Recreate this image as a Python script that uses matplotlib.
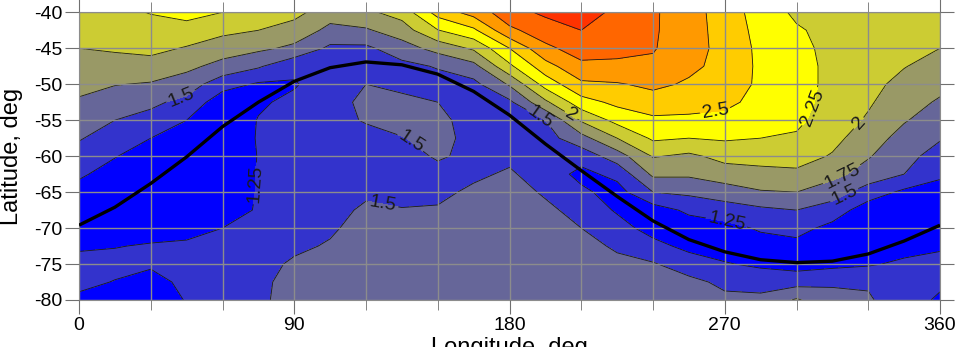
import numpy as np
import matplotlib.pyplot as plt
from matplotlib.ticker import MultipleLocator

plt.rcParams['font.family'] = ['Liberation Sans', 'DejaVu Sans']
plt.rcParams['axes.unicode_minus'] = False

# grid nodes
lon_nodes = np.arange(0, 361, 15)
lat_nodes = np.arange(-40, -80.1, -2.5)

# ratio values, one list per longitude (0..345 step 15), from -40 down to -80
ratio_by_lon = [
    [2.15, 2.08, 2.00, 1.91, 1.82, 1.72, 1.62, 1.52, 1.40, 1.28, 1.18, 1.12, 1.14, 1.22, 1.32, 1.31, 1.20],
    [2.20, 2.11, 2.03, 1.90, 1.76, 1.63, 1.50, 1.38, 1.26, 1.17, 1.10, 1.07, 1.10, 1.24, 1.32, 1.24, 1.10],
    [2.26, 2.17, 2.07, 1.90, 1.73, 1.55, 1.42, 1.25, 1.15, 1.08, 1.05, 1.08, 1.15, 1.27, 1.29, 1.15, 1.05],
    [2.33, 2.16, 1.98, 1.81, 1.63, 1.43, 1.25, 1.15, 1.08, 1.03, 1.02, 1.06, 1.15, 1.30, 1.35, 1.32, 1.27],
    [2.25, 2.06, 1.87, 1.67, 1.35, 1.10, 1.08, 1.05, 1.03, 1.03, 1.05, 1.10, 1.25, 1.33, 1.38, 1.40, 1.40],
    [2.15, 2.00, 1.80, 1.53, 1.22, 1.22, 1.26, 1.27, 1.26, 1.27, 1.27, 1.28, 1.32, 1.37, 1.43, 1.46, 1.47],
    [2.08, 1.89, 1.70, 1.31, 1.23, 1.30, 1.33, 1.34, 1.34, 1.33, 1.33, 1.35, 1.40, 1.46, 1.53, 1.56, 1.56],
    [1.85, 1.69, 1.45, 1.38, 1.37, 1.40, 1.42, 1.41, 1.38, 1.37, 1.38, 1.42, 1.47, 1.52, 1.57, 1.60, 1.60],
    [1.95, 1.72, 1.45, 1.40, 1.50, 1.56, 1.52, 1.42, 1.38, 1.40, 1.46, 1.54, 1.58, 1.60, 1.62, 1.63, 1.63],
    [2.10, 1.88, 1.64, 1.43, 1.45, 1.55, 1.58, 1.49, 1.40, 1.40, 1.44, 1.51, 1.56, 1.60, 1.62, 1.63, 1.63],
    [2.60, 2.24, 1.84, 1.52, 1.40, 1.50, 1.57, 1.57, 1.53, 1.42, 1.45, 1.52, 1.57, 1.60, 1.62, 1.63, 1.63],
    [2.85, 2.45, 2.04, 1.67, 1.43, 1.38, 1.39, 1.43, 1.44, 1.46, 1.54, 1.60, 1.62, 1.63, 1.64, 1.64, 1.64],
    [3.15, 2.95, 2.50, 2.20, 1.78, 1.45, 1.35, 1.37, 1.45, 1.53, 1.60, 1.63, 1.64, 1.65, 1.65, 1.65, 1.65],
    [3.30, 3.12, 2.95, 2.65, 2.35, 1.95, 1.50, 1.40, 1.36, 1.39, 1.47, 1.55, 1.60, 1.63, 1.65, 1.65, 1.65],
    [3.45, 3.25, 3.10, 2.95, 2.70, 2.40, 2.03, 1.66, 1.35, 1.18, 1.30, 1.42, 1.50, 1.57, 1.62, 1.64, 1.65],
    [3.15, 3.12, 3.07, 2.95, 2.73, 2.56, 2.33, 2.00, 1.63, 1.32, 1.15, 1.22, 1.35, 1.47, 1.55, 1.58, 1.60],
    [3.03, 3.03, 3.02, 2.95, 2.80, 2.65, 2.45, 2.29, 2.02, 1.80, 1.50, 1.13, 1.15, 1.33, 1.52, 1.55, 1.55],
    [2.87, 2.86, 2.84, 2.80, 2.72, 2.60, 2.45, 2.25, 1.95, 1.79, 1.55, 1.30, 1.12, 1.18, 1.38, 1.56, 1.58],
    [2.62, 2.65, 2.68, 2.68, 2.65, 2.56, 2.43, 2.28, 2.08, 1.88, 1.63, 1.38, 1.17, 1.12, 1.27, 1.45, 1.55],
    [2.40, 2.42, 2.44, 2.45, 2.45, 2.42, 2.35, 2.25, 2.10, 1.92, 1.73, 1.45, 1.28, 1.15, 1.20, 1.42, 1.55],
    [2.20, 2.28, 2.32, 2.34, 2.34, 2.33, 2.30, 2.22, 2.10, 1.95, 1.75, 1.50, 1.33, 1.18, 1.15, 1.40, 1.78],
    [2.15, 2.17, 2.18, 2.19, 2.19, 2.17, 2.13, 2.07, 1.98, 1.82, 1.62, 1.38, 1.18, 1.10, 1.18, 1.47, 1.57],
    [2.12, 2.12, 2.12, 2.10, 2.07, 2.03, 1.97, 1.87, 1.77, 1.65, 1.38, 1.12, 1.06, 1.08, 1.22, 1.48, 1.52],
    [2.15, 2.12, 2.08, 2.01, 1.93, 1.85, 1.77, 1.66, 1.58, 1.50, 1.20, 1.10, 1.08, 1.15, 1.30, 1.45, 1.40],
]

# track of the thick black curve
curve_lon = [0, 15, 30, 45, 60, 75, 90, 105, 120, 135, 150, 165, 180,
             195, 210, 225, 240, 255, 270, 285, 300, 315, 330, 345, 360]
curve_lat = [-69.6, -67.1, -63.8, -60.1, -55.9, -52.5, -49.6, -47.7, -46.9, -47.3, -48.6, -51.0, -54.3,
             -58.3, -62.0, -65.6, -69.0, -71.6, -73.3, -74.4, -74.8, -74.6, -73.6, -71.8, -69.6]

line_levels = [1.25, 1.5, 1.75, 2.0, 2.25, 2.5, 2.75, 3.0, 3.25]
fill_levels = [0.0] + line_levels + [4.0]
fill_colors = ['#0000ff', '#3333cc', '#666699', '#999966', '#cccc33',
               '#ffff00', '#ffcc00', '#ff9900', '#ff6600', '#ff3300']

# where the contour values are written
label_spots = {
    1.25: [(74.8, -63.8), (271, -68.8)],
    1.5: [(42.2, -51.2), (137.6, -58.5), (127, -66.8), (192, -55.0), (321, -66.1)],
    1.75: [(319.5, -63.0)],
    2.0: [(206.5, -53.9), (327, -55.7)],
    2.25: [(306.5, -53.2)],
    2.5: [(266, -53.6)],
}

Z = np.array(ratio_by_lon).T
Z = np.hstack([Z, Z[:, :1]])

fig = plt.figure(figsize=(9.61, 3.47), dpi=100)
ax = fig.add_axes([79 / 961, 47 / 347, 861 / 961, 287.7 / 347])

ax.contourf(lon_nodes, lat_nodes, Z, levels=fill_levels, colors=fill_colors)
for lev in line_levels:
    cs = ax.contour(lon_nodes, lat_nodes, Z, levels=[lev], colors='#1a1a1a', linewidths=0.6)
    if lev in label_spots:
        cs.clabel(manual=label_spots[lev], fmt='%g', fontsize=14, inline=True, inline_spacing=2)

ax.plot(curve_lon, curve_lat, color='black', lw=2.4, zorder=4, solid_capstyle='butt')

ax.set_xlim(0, 360)
ax.set_ylim(-80, -40)
ax.xaxis.set_major_locator(MultipleLocator(90))
ax.xaxis.set_minor_locator(MultipleLocator(30))
ax.yaxis.set_major_locator(MultipleLocator(5))
ax.tick_params(which='both', direction='out', top=True, right=True,
               labeltop=False, labelright=False, color='#707070', labelsize=14, pad=2)
ax.tick_params(which='major', length=10)
ax.tick_params(which='minor', length=7)

ax.set_axisbelow(False)
ax.grid(True, axis='x', which='both', color='#8c8c8c', lw=1)
ax.grid(True, axis='y', which='major', color='#8c8c8c', lw=1)
for sp in ax.spines.values():
    sp.set_color('#8c8c8c')

ax.set_ylabel('Latitude, deg', fontsize=17)
ax.yaxis.set_label_coords(-0.065, 0.5)
ax.set_xlabel('Longitude, deg', fontsize=17)
ax.xaxis.set_label_coords(0.5, -0.128)

fig.savefig('out.png', dpi=100)
